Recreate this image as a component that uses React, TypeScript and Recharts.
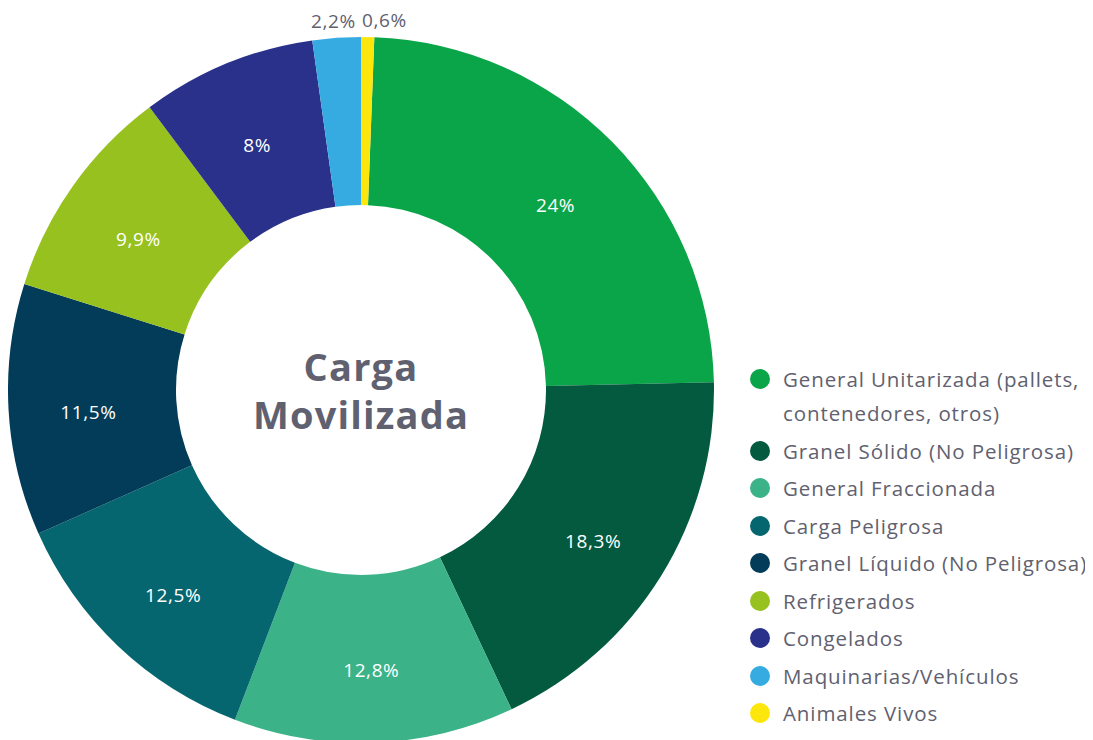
import React from 'react'
import { PieChart, Pie, Cell, Legend } from 'recharts'

const categories = [
  'General Unitarizada (pallets, contenedores, otros)',
  'Granel Sólido (No Peligrosa)',
  'General Fraccionada',
  'Carga Peligrosa',
  'Granel Líquido (No Peligrosa)',
  'Refrigerados',
  'Congelados',
  'Maquinarias/Vehículos',
  'Animales Vivos',
]
const shares = [24, 18.3, 12.8, 12.5, 11.5, 9.9, 8, 2.2, 0.6]
const colors = ['#0aa548', '#035a3f', '#3bb287', '#066670', '#023c59', '#97c11f', '#29318a', '#36abe2', '#fde60c']

const FONT = '"Open Sans", sans-serif'
const TEXT_GRAY = '#5f6170'
const CX = 353
const CY = 382
const INNER = 185
const OUTER = 353
const RAD = Math.PI / 180

const data = categories.map((name, i) => ({ name, value: shares[i] }))
const total = shares.reduce((a, b) => a + b, 0)
// la última porción (Animales Vivos) queda a la derecha del eje vertical
const START = 90 - (shares[shares.length - 1] / total) * 360

const fmt = (v: number) => `${String(v).replace('.', ',')}%`

const renderLabel = (props: any) => {
  const { midAngle, value } = props
  const cos = Math.cos(-midAngle * RAD)
  const sin = Math.sin(-midAngle * RAD)
  if (value < 3) {
    // etiquetas pequeñas van por fuera del anillo
    const r = OUTER + 17
    const x = CX + r * cos
    const y = CY + r * sin
    const right = x > CX
    return (
      <text x={right ? x - 6 : x - 2} y={y} fill={TEXT_GRAY} fontSize={19} letterSpacing={0.6} fontFamily={FONT}
        textAnchor={right ? 'start' : 'middle'} dominantBaseline="central">
        {fmt(value)}
      </text>
    )
  }
  const r = 273
  return (
    <text x={CX + r * cos} y={CY + r * sin + 7} fill="#ffffff" fontSize={19} letterSpacing={0.6} fontFamily={FONT}
      textAnchor="middle" dominantBaseline="central">
      {fmt(value)}
    </text>
  )
}

const renderLegend = () => (
  <div style={{ fontFamily: FONT, fontSize: 20.5, letterSpacing: 0.9, color: TEXT_GRAY }}>
    {categories.map((c, i) => (
      <div key={c} style={{ display: 'flex', alignItems: 'flex-start', marginBottom: 3.5 }}>
        <span style={{ width: 20, height: 20, borderRadius: '50%', background: colors[i], marginTop: 7, flexShrink: 0 }} />
        <span style={{ marginLeft: 13, lineHeight: '34px', width: 318 }}>{c}</span>
      </div>
    ))}
  </div>
)

export default function App() {
  return (
    <div style={{ position: 'relative', width: 1085, height: 732 }}>
      <PieChart width={1085} height={732} margin={{ top: 0, right: 0, bottom: 0, left: 0 }}>
        <Pie
          data={data}
          dataKey="value"
          nameKey="name"
          cx={CX}
          cy={CY}
          innerRadius={INNER}
          outerRadius={OUTER}
          startAngle={START}
          endAngle={START - 360}
          stroke="none"
          label={renderLabel}
          labelLine={false}
          isAnimationActive={false}
        >
          {data.map((d, i) => (
            <Cell key={d.name} fill={colors[i]} />
          ))}
        </Pie>
        <Legend content={renderLegend} wrapperStyle={{ left: 742, top: 354, width: 345 }} />
      </PieChart>
      <div style={{
        position: 'absolute', left: CX - 150, top: CY - 48, width: 300, textAlign: 'center',
        fontFamily: FONT, fontWeight: 700, fontSize: 38, letterSpacing: 1.2, lineHeight: '48px', color: TEXT_GRAY,
      }}>
        Carga<br />Movilizada
      </div>
    </div>
  )
}
